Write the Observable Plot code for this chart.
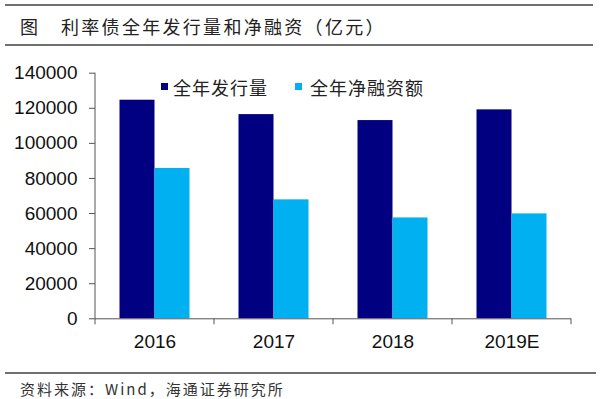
<!DOCTYPE html>
<html><head><meta charset="utf-8">
<script src="https://cdn.jsdelivr.net/npm/d3@7"></script>
<script src="https://cdn.jsdelivr.net/npm/@observablehq/plot@0.6"></script>
<style>
body{margin:0;background:#fff;}
#wrap{position:relative;width:600px;height:399px;overflow:hidden;font-family:"Noto Sans CJK SC",sans-serif;color:#222;}
.hline{position:absolute;left:5px;width:588px;height:2px;background:#6f6f6f;}
.t{position:absolute;white-space:nowrap;}
#chart{position:absolute;left:0;top:50px;}
.sw{position:absolute;width:7px;height:7px;}
</style></head>
<body><div id="wrap">
<div class="hline" style="top:4px"></div>
<div class="t" style="left:20px;top:17px;font-size:18px;line-height:18px;">图</div>
<div class="t" id="title" style="left:61px;top:17px;font-size:18px;line-height:18px;letter-spacing:2.3px;"></div>
<div class="hline" style="top:44px"></div>
<div id="chart"></div>
<div id="legend"></div>
<div class="hline" style="top:372px;width:591px"></div>
<div class="t" id="caption" style="left:20px;top:381px;font-size:15px;line-height:15px;letter-spacing:2px;color:#333;"></div>
</div>
<script>
const titleText = "利率债全年发行量和净融资（亿元）";
const captionText = "资料来源：Wind，海通证券研究所";
const years = ["2016", "2017", "2018", "2019E"];
const seriesNames = ["全年发行量", "全年净融资额"];
const issuance = [124600, 116400, 113000, 119100];
const netFinancing = [85700, 67800, 57500, 59800];
const yTicks = [0, 20000, 40000, 60000, 80000, 100000, 120000, 140000];
const colors = ["#000080", "#00B0F0"];

document.getElementById("title").textContent = titleText;
document.getElementById("caption").textContent = captionText;

const data = years.map((y, i) => ({year: y, issuance: issuance[i], net: netFinancing[i]}));

const boundaryTicks = (index, scales, values, dimensions) => {
  const x = scales.x, y = scales.y;
  const starts = years.map(v => x(v));
  const step = starts[1] - starts[0];
  const pos = starts.concat([starts[starts.length - 1] + step]);
  const y0 = y(0);
  const g = d3.create("svg:g");
  g.selectAll("line").data(pos).join("line")
    .attr("x1", d => d).attr("x2", d => d)
    .attr("y1", y0).attr("y2", y0 + 6)
    .attr("stroke", "#555").attr("stroke-width", 1);
  return g.node();
};

const yAxisLine = (index, scales, values, dimensions) => {
  const g = d3.create("svg:g");
  g.append("line")
    .attr("x1", dimensions.marginLeft).attr("x2", dimensions.marginLeft)
    .attr("y1", scales.y(yTicks[yTicks.length - 1])).attr("y2", scales.y(0))
    .attr("stroke", "#555");
  return g.node();
};

const chart = Plot.plot({
  width: 600,
  height: 320,
  marginTop: 22.7,
  marginBottom: 51.7,
  marginLeft: 95,
  marginRight: 29,
  style: {fontFamily: "'Liberation Sans', Arial, sans-serif", fontSize: "19px", color: "#111", background: "transparent"},
  x: {domain: years, padding: 0, label: null},
  y: {domain: [0, 140000], label: null},
  marks: [
    Plot.barY(data, {x: "year", y: "issuance", fill: colors[0], insetLeft: 24.5, insetRight: 59.5}),
    Plot.barY(data, {x: "year", y: "net", fill: colors[1], insetLeft: 59.5, insetRight: 24.5}),
    Plot.axisY({ticks: yTicks, tickSize: 6, tickPadding: 12, tickFormat: d => String(d), stroke: "#555", label: null}),
    Plot.axisX({tickSize: 0, tickPadding: 16, label: null}),
    Plot.ruleY([0], {stroke: "#555"}),
    boundaryTicks,
    yAxisLine
  ]
});
document.getElementById("chart").appendChild(chart);

const legend = document.getElementById("legend");
const legendPos = [{sq: 161, tx: 173}, {sq: 295, tx: 310}];
seriesNames.forEach((name, i) => {
  const sq = document.createElement("div");
  sq.className = "sw";
  sq.style.left = legendPos[i].sq + "px";
  sq.style.top = "83px";
  sq.style.background = colors[i];
  legend.appendChild(sq);
  const t = document.createElement("div");
  t.className = "t";
  t.style.left = legendPos[i].tx + "px";
  t.style.top = "78px";
  t.style.fontSize = "18px";
  t.style.lineHeight = "18px";
  t.style.letterSpacing = "1px";
  t.textContent = name;
  legend.appendChild(t);
});
</script>
</body></html>
